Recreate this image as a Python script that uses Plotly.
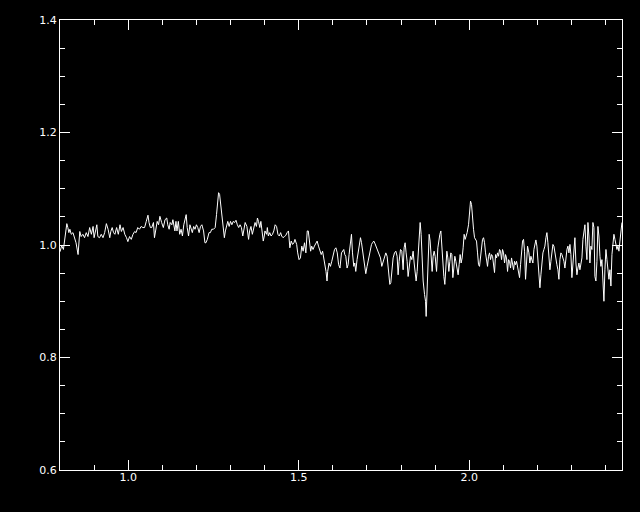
import plotly.graph_objects as go

# (wavelength, relative flux), region by region
seg_a = [(0.800, 0.988), (0.805, 0.999), (0.810, 0.992), (0.815, 1.017), (0.820, 1.038),
         (0.823, 1.031), (0.826, 1.022), (0.829, 1.028), (0.833, 1.019), (0.838, 1.022),
         (0.843, 1.010), (0.847, 1.004), (0.853, 0.983), (0.856, 1.001), (0.858, 1.024),
         (0.862, 1.015), (0.867, 1.019), (0.872, 1.013), (0.877, 1.022), (0.882, 1.015),
         (0.887, 1.031), (0.892, 1.019), (0.897, 1.033), (0.900, 1.013), (0.904, 1.028),
         (0.908, 1.036), (0.911, 1.015), (0.916, 1.013), (0.921, 1.019), (0.926, 1.013),
         (0.931, 1.022), (0.936, 1.038), (0.941, 1.028), (0.946, 1.013), (0.949, 1.024),
         (0.953, 1.031), (0.957, 1.022), (0.961, 1.019), (0.966, 1.031), (0.971, 1.019),
         (0.976, 1.036), (0.980, 1.024), (0.985, 1.031), (0.990, 1.019), (0.995, 1.013),
         (0.999, 1.006), (1.004, 1.015), (1.009, 1.010), (1.014, 1.019), (1.019, 1.024),
         (1.023, 1.022), (1.028, 1.031), (1.033, 1.028), (1.038, 1.033), (1.043, 1.031),
         (1.048, 1.031), (1.053, 1.042), (1.058, 1.053), (1.061, 1.040), (1.065, 1.031)]

seg_b = [(1.069, 1.031), (1.074, 1.040), (1.077, 1.013), (1.081, 1.033), (1.085, 1.042),
         (1.089, 1.036), (1.093, 1.051), (1.098, 1.040), (1.103, 1.031), (1.108, 1.045),
         (1.113, 1.048), (1.116, 1.036), (1.120, 1.028), (1.123, 1.040), (1.128, 1.036),
         (1.131, 1.045), (1.134, 1.031), (1.137, 1.025), (1.140, 1.042), (1.143, 1.025),
         (1.147, 1.042), (1.151, 1.019), (1.155, 1.028), (1.159, 1.016), (1.163, 1.036),
         (1.167, 1.051), (1.170, 1.054), (1.173, 1.031), (1.177, 1.016), (1.181, 1.036),
         (1.184, 1.031), (1.188, 1.022), (1.192, 1.033), (1.196, 1.028), (1.200, 1.036),
         (1.204, 1.031), (1.208, 1.022), (1.212, 1.033), (1.216, 1.036), (1.221, 1.025),
         (1.225, 1.004), (1.228, 1.004), (1.232, 1.010), (1.237, 1.022), (1.241, 1.022),
         (1.245, 1.028), (1.250, 1.028), (1.255, 1.031), (1.259, 1.054), (1.262, 1.084),
         (1.265, 1.093), (1.268, 1.090), (1.271, 1.072), (1.275, 1.054), (1.278, 1.031),
         (1.282, 1.013), (1.285, 1.025), (1.289, 1.036), (1.292, 1.042), (1.296, 1.033),
         (1.300, 1.042), (1.304, 1.036), (1.308, 1.042), (1.312, 1.040), (1.316, 1.044),
         (1.320, 1.036), (1.324, 1.031), (1.328, 1.036), (1.332, 1.031), (1.336, 1.016),
         (1.340, 1.036), (1.343, 1.040), (1.348, 1.033)]

seg_c = [(1.353, 1.010), (1.356, 1.025), (1.360, 1.033), (1.364, 1.019), (1.368, 1.031),
         (1.372, 1.040), (1.376, 1.033), (1.379, 1.048), (1.382, 1.042), (1.386, 1.031),
         (1.389, 1.042), (1.392, 1.025), (1.396, 1.007), (1.399, 1.016), (1.401, 1.025),
         (1.406, 1.019), (1.408, 1.031), (1.411, 1.016), (1.415, 1.022), (1.419, 1.016),
         (1.423, 1.019), (1.427, 1.025), (1.431, 1.036), (1.435, 1.033), (1.439, 1.019),
         (1.443, 1.016), (1.447, 1.022), (1.450, 1.016), (1.454, 1.013), (1.458, 1.015),
         (1.462, 1.017), (1.466, 1.022), (1.470, 1.025), (1.474, 0.995), (1.478, 1.007),
         (1.482, 1.001), (1.486, 1.004), (1.489, 1.010), (1.494, 1.001), (1.497, 0.986),
         (1.501, 0.974), (1.505, 0.977), (1.509, 0.998), (1.513, 0.989), (1.517, 1.004),
         (1.521, 0.986), (1.525, 1.025), (1.528, 1.025), (1.531, 1.004), (1.535, 0.989),
         (1.538, 0.998), (1.542, 0.992), (1.546, 0.998), (1.550, 1.004), (1.554, 1.007),
         (1.558, 0.998), (1.562, 0.992), (1.566, 0.983), (1.570, 0.989), (1.574, 0.977),
         (1.578, 0.965), (1.580, 0.953), (1.583, 0.936), (1.585, 0.953), (1.589, 0.968),
         (1.593, 0.962), (1.597, 0.971), (1.601, 0.980), (1.605, 0.992), (1.609, 0.995),
         (1.613, 0.986), (1.617, 0.965), (1.621, 0.959)]

seg_d_wave = [1.6254, 1.6283, 1.6321, 1.6351, 1.6380, 1.6418, 1.6448, 1.6477, 1.6518, 1.6547,
              1.6577, 1.6615, 1.6644, 1.6673, 1.6711, 1.6741, 1.6770, 1.6811, 1.6841, 1.6870,
              1.6908, 1.6937, 1.6967, 1.7005, 1.7034, 1.7064, 1.7105, 1.7134, 1.7163, 1.7201,
              1.7240, 1.7281, 1.7319, 1.7357, 1.7398, 1.7436, 1.7475, 1.7516, 1.7554, 1.7592,
              1.7633, 1.7671, 1.7701, 1.7730, 1.7768, 1.7809, 1.7848, 1.7886, 1.7915, 1.7944,
              1.7985, 1.8023, 1.8062, 1.8091, 1.8120, 1.8150, 1.8179, 1.8208, 1.8238, 1.8279,
              1.8317, 1.8355, 1.8385, 1.8414, 1.8443, 1.8473, 1.8502, 1.8531, 1.8561, 1.8590,
              1.8619, 1.8649, 1.8690, 1.8719, 1.8737, 1.8766, 1.8795, 1.8825, 1.8854, 1.8883,
              1.8913, 1.8942, 1.8971]
seg_d_flux = [0.986, 0.989, 0.992, 0.983, 0.980, 0.959, 0.965, 0.983, 1.001, 1.019,
              0.986, 0.962, 0.968, 0.953, 0.974, 0.989, 1.001, 1.013, 1.004, 0.989,
              0.971, 0.959, 0.949, 0.962, 0.971, 0.986, 0.992, 1.001, 1.004, 1.007,
              1.002, 0.995, 0.992, 0.983, 0.977, 0.962, 0.971, 0.980, 0.986, 0.980,
              0.956, 0.930, 0.933, 0.953, 0.977, 0.986, 0.989, 0.980, 0.947, 0.971,
              0.992, 0.989, 0.956, 0.995, 1.004, 0.986, 0.971, 0.944, 0.962, 0.980,
              0.974, 0.989, 0.968, 0.953, 0.936, 0.953, 0.986, 1.013, 1.040, 1.019,
              0.971, 0.936, 0.912, 0.900, 0.873, 0.912, 0.971, 1.019, 1.007, 0.983,
              0.953, 0.980, 0.989]

seg_e_wave = [1.9001, 1.9042,
              1.9080, 1.9109, 1.9138, 1.9168, 1.9197, 1.9226, 1.9256, 1.9285, 1.9314, 1.9344,
              1.9373, 1.9402, 1.9432, 1.9461, 1.9490, 1.9520, 1.9549, 1.9578, 1.9608,
              1.9646, 1.9675, 1.9704, 1.9734, 1.9763, 1.9792, 1.9822, 1.9851, 1.9880, 1.9910,
              1.9939,
              1.9980, 2.0009, 2.0038, 2.0068, 2.0097, 2.0126, 2.0156, 2.0185, 2.0214, 2.0244,
              2.0273, 2.0302, 2.0332, 2.0361, 2.0390, 2.0420, 2.0449, 2.0478, 2.0508, 2.0537,
              2.0566, 2.0596, 2.0625, 2.0654, 2.0684, 2.0713, 2.0742, 2.0772, 2.0801, 2.0830,
              2.0860, 2.0889, 2.0918, 2.0948, 2.0977, 2.1006, 2.1036, 2.1065, 2.1094, 2.1124,
              2.1153, 2.1182, 2.1212, 2.1241, 2.1270, 2.1300, 2.1329, 2.1358, 2.1388, 2.1417,
              2.1446, 2.1476, 2.1505, 2.1534, 2.1564, 2.1593, 2.1622, 2.1652, 2.1681, 2.1710]
seg_e_flux = [0.980, 0.953,
              0.995, 1.010, 1.019, 1.025, 0.992, 0.971, 0.944, 0.930, 0.953, 0.989,
              0.977, 0.953, 0.971, 0.986, 0.983, 0.942, 0.959, 0.980, 0.971,
              0.956, 0.947, 0.965, 0.983, 0.968, 0.977, 0.995, 1.019, 1.010, 1.016,
              1.022,
              1.036, 1.060, 1.078, 1.072, 1.042, 1.028, 1.013, 1.010, 1.007, 0.986,
              0.965, 0.962, 0.983, 0.992, 1.010, 1.013, 1.004, 0.986, 0.974, 0.962,
              0.980, 0.986, 0.974, 0.983, 0.980, 0.965, 0.951, 0.983, 0.977, 0.986,
              0.980, 0.992, 0.989, 0.974, 0.992, 0.986, 0.968, 0.983, 0.977, 0.953,
              0.974, 0.971, 0.959, 0.977, 0.968, 0.956, 0.971, 0.965, 0.971, 0.962,
              0.956, 0.942, 0.965, 0.989, 1.007, 1.010, 0.989, 0.939, 0.977, 0.998]

seg_f_wave = [2.1750, 2.1779, 2.1809, 2.1838, 2.1867, 2.1897, 2.1926, 2.1955, 2.1985, 2.2014,
              2.2043, 2.2073, 2.2102, 2.2131, 2.2161, 2.2190, 2.2219, 2.2249, 2.2278, 2.2307,
              2.2337, 2.2366, 2.2395, 2.2425, 2.2454, 2.2483, 2.2513, 2.2542, 2.2571, 2.2601,
              2.2630, 2.2659, 2.2689, 2.2718, 2.2747, 2.2777, 2.2806, 2.2835, 2.2865, 2.2894,
              2.2923, 2.2953, 2.2982, 2.3011, 2.3041, 2.3070, 2.3099, 2.3129, 2.3158, 2.3187,
              2.3217, 2.3246, 2.3275, 2.3305, 2.3334, 2.3363, 2.3393, 2.3422, 2.3451, 2.3481,
              2.3510, 2.3539, 2.3569, 2.3598, 2.3627, 2.3657, 2.3686, 2.3715, 2.3745, 2.3774,
              2.3803, 2.3833, 2.3862, 2.3891, 2.3921, 2.3950, 2.3979, 2.4009, 2.4038, 2.4067,
              2.4097, 2.4126, 2.4155, 2.4185, 2.4214, 2.4243, 2.4273, 2.4302,
              2.4332, 2.4361, 2.4390, 2.4420, 2.4449, 2.4478]
seg_f_flux = [0.986, 0.968, 0.980, 0.974, 0.968, 0.992, 1.004, 1.009, 0.998, 0.974,
              0.939, 0.924, 0.947, 0.974, 0.986, 0.992, 0.998, 1.013, 1.022, 1.004,
              0.980, 0.956, 0.971, 0.992, 1.001, 0.998, 0.983, 0.974, 0.965, 0.956,
              0.939, 0.974, 0.986, 0.983, 0.977, 0.971, 0.959, 0.980, 0.992, 0.998,
              0.986, 1.001, 0.983, 0.942, 0.965, 0.980, 1.013, 0.968, 0.947, 0.959,
              0.968, 0.956, 0.968, 0.977, 1.010, 1.028, 1.036, 0.998, 0.974, 1.040,
              1.016, 0.968, 0.998, 0.992, 1.040, 1.031, 0.944, 0.936, 0.971, 1.033,
              1.016, 0.980, 0.962, 0.974, 0.918, 0.900, 0.956, 0.992, 0.974, 0.951,
              0.939, 0.956, 0.927, 0.983, 0.998, 1.019, 1.010, 0.998,
              0.992, 0.998, 0.989, 1.007, 1.031, 1.040]

x_range = [0.8, 2.448]
y_range = [0.6, 1.4]

wave = [p[0] for p in seg_a + seg_b + seg_c] + seg_d_wave + seg_e_wave + seg_f_wave
flux = [p[1] for p in seg_a + seg_b + seg_c] + seg_d_flux + seg_e_flux + seg_f_flux

fig = go.Figure(go.Scatter(x=wave, y=flux, mode="lines",
                           line=dict(color="white", width=1), hoverinfo="skip"))

axis_common = dict(showgrid=False, zeroline=False, showline=True, linecolor="white",
                   linewidth=1, mirror="allticks", ticks="inside", tickcolor="white",
                   tickwidth=1, ticklen=10,
                   tickfont=dict(family="DejaVu Sans", size=11, color="white"))

fig.update_xaxes(range=x_range, tick0=0, dtick=0.5, tickformat=".1f",
                 ticklabelstandoff=-3,
                 minor=dict(ticks="inside", ticklen=5, dtick=0.1, tick0=0,
                            tickcolor="white", tickwidth=1, showgrid=False),
                 **axis_common)
fig.update_yaxes(range=y_range, tick0=0, dtick=0.2, tickformat=".1f",
                 minor=dict(ticks="inside", ticklen=5, dtick=0.05, tick0=0,
                            tickcolor="white", tickwidth=1, showgrid=False),
                 **axis_common)

fig.update_layout(width=640, height=512, paper_bgcolor="black", plot_bgcolor="black",
                  margin=dict(l=60, r=18, t=20, b=42), showlegend=False)

fig.write_html("out.html", config={"displayModeBar": False},
               post_script="document.body.style.margin='0';document.body.style.background='black';")
